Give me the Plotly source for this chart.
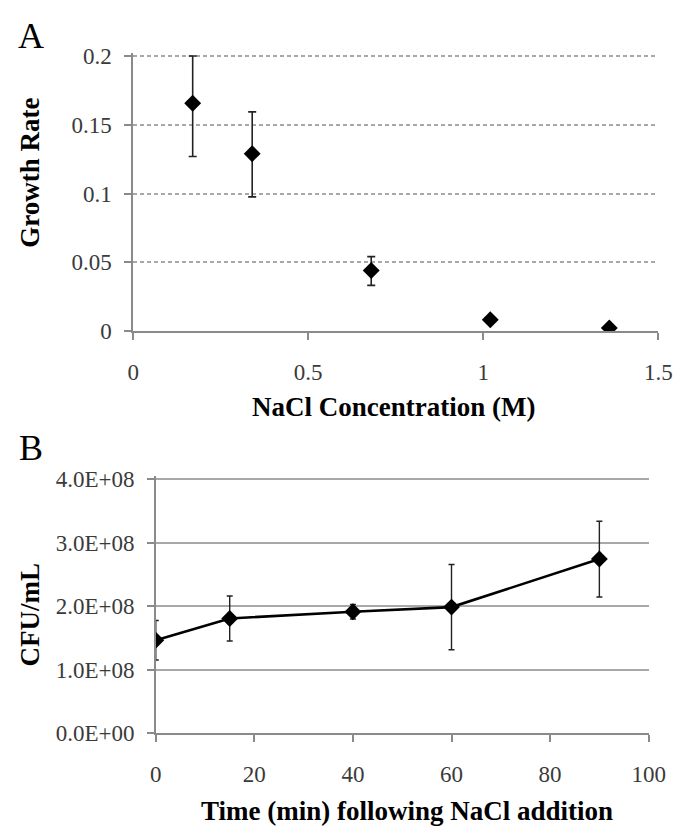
import plotly.graph_objects as go

# Panel A data
nacl_conc = [0.17, 0.34, 0.68, 1.02, 1.36]
growth_rate = [0.1656, 0.129, 0.0441, 0.0083, 0.0024]
growth_err_plus = [0.0344, 0.0304, 0.0101, 0.0, 0.0]
growth_err_minus = [0.0387, 0.0314, 0.0108, 0.0, 0.0]

# Panel B data
time_min = [0, 15, 40, 60, 90]
cfu_ml = [1.464e8, 1.806e8, 1.913e8, 1.985e8, 2.74e8]
cfu_err = [0.31e8, 0.353e8, 0.115e8, 0.67e8, 0.595e8]

a_xticks = [0, 0.5, 1, 1.5]
a_xticklabels = ["0", "0.5", "1", "1.5"]
a_yticks = [0, 0.05, 0.1, 0.15, 0.2]
a_yticklabels = ["0", "0.05", "0.1", "0.15", "0.2"]
b_xticks = [0, 20, 40, 60, 80, 100]
b_xticklabels = ["0", "20", "40", "60", "80", "100"]
b_yticks = [0, 1e8, 2e8, 3e8, 4e8]
b_yticklabels = ["0.0E+00", "1.0E+08", "2.0E+08", "3.0E+08", "4.0E+08"]

W, H = 685, 840
FONT = "Liberation Serif, Times New Roman, serif"
TICKCOL = "#3a3a3a"
AXCOL = "#8a8a8a"

def px_x(p):
    return p / W

def px_y(p):
    return 1 - p / H

# a few extra pixels above the top tick so its gridline is drawn
EXTRA = 3.0
a_top, a_bot = 40.0, 322.7
a_ymax = 0.2 * (1 + EXTRA / (a_bot - a_top))
b_top, b_bot = 474.3, 735.7
b_ymax = 4e8 * (1 + EXTRA / (b_bot - b_top))

fig = go.Figure()

fig.add_trace(go.Scatter(
    x=nacl_conc, y=growth_rate, mode="markers",
    marker=dict(symbol="diamond", size=13, color="black"),
    error_y=dict(type="data", array=growth_err_plus, arrayminus=growth_err_minus,
                 symmetric=False, visible=True,
                 color="#222222", thickness=1.6, width=4),
    xaxis="x", yaxis="y", showlegend=False,
))

fig.add_trace(go.Scatter(
    x=time_min, y=cfu_ml, mode="lines+markers",
    line=dict(color="black", width=2.6),
    marker=dict(symbol="diamond", size=13, color="black"),
    error_y=dict(type="data", array=cfu_err, visible=True,
                 color="#222222", thickness=1.4, width=3),
    xaxis="x2", yaxis="y2", showlegend=False,
))

tickfont = dict(family=FONT, size=23, color=TICKCOL)

fig.update_layout(
    width=W, height=H,
    margin=dict(l=0, r=0, t=0, b=0),
    paper_bgcolor="white", plot_bgcolor="white",
    font=dict(family=FONT),
    xaxis=dict(
        domain=[px_x(123.3), px_x(666.7)], anchor="y",
        range=[0, 1.5], tickvals=a_xticks, ticktext=a_xticklabels,
        showgrid=False, zeroline=False, showline=True, linecolor=AXCOL, linewidth=1.5,
        ticks="outside", ticklen=7, tickcolor=AXCOL, tickwidth=1.5,
        tickfont=tickfont, ticklabelstandoff=12,
    ),
    yaxis=dict(
        domain=[px_y(a_bot), px_y(a_top - EXTRA)], anchor="x",
        range=[0, a_ymax], tickvals=a_yticks, ticktext=a_yticklabels,
        showgrid=True, gridcolor="#a8a8a8", gridwidth=1.5, griddash="4px,3px",
        zeroline=False, showline=True, linecolor=AXCOL, linewidth=1.5,
        ticks="outside", ticklen=7, tickcolor=AXCOL, tickwidth=1.5,
        tickfont=tickfont, ticklabelstandoff=8,
    ),
    xaxis2=dict(
        domain=[px_x(146.7), px_x(656.7)], anchor="y2",
        range=[0, 100], tickvals=b_xticks, ticktext=b_xticklabels,
        showgrid=False, zeroline=False, showline=True, linecolor=AXCOL, linewidth=1.5,
        ticks="outside", ticklen=7, tickcolor=AXCOL, tickwidth=1.5,
        tickfont=tickfont, ticklabelstandoff=12,
    ),
    yaxis2=dict(
        domain=[px_y(b_bot), px_y(b_top - EXTRA)], anchor="x2",
        range=[0, b_ymax], tickvals=b_yticks, ticktext=b_yticklabels,
        showgrid=True, gridcolor="#a8a8a8", gridwidth=1.8,
        zeroline=False, showline=True, linecolor=AXCOL, linewidth=1.5,
        ticks="outside", ticklen=7, tickcolor=AXCOL, tickwidth=1.5,
        tickfont=tickfont, ticklabelstandoff=8,
    ),
)

titlefont = dict(family=FONT, size=27, color="black")
annots = [
    dict(text="A", x=px_x(17.5), y=px_y(20), font=dict(family=FONT, size=36, color="black")),
    dict(text="B", x=px_x(17.5), y=px_y(443), font=dict(family=FONT, size=36, color="black")),
    dict(text="<b>Growth Rate</b>", x=px_x(16.5), y=px_y(160), textangle=-90, font=titlefont),
    dict(text="<b>NaCl Concentration (M)</b>", x=px_x(393), y=px_y(400), font=titlefont),
    dict(text="<b>CFU/mL</b>", x=px_x(16), y=px_y(613), textangle=-90, font=titlefont),
    dict(text="<b>Time (min) following NaCl addition</b>", x=px_x(407), y=px_y(815), font=titlefont),
]
for a in annots:
    fig.add_annotation(xref="paper", yref="paper", showarrow=False,
                       xanchor="center", yanchor="middle", **a)

fig.write_html("out.html")
